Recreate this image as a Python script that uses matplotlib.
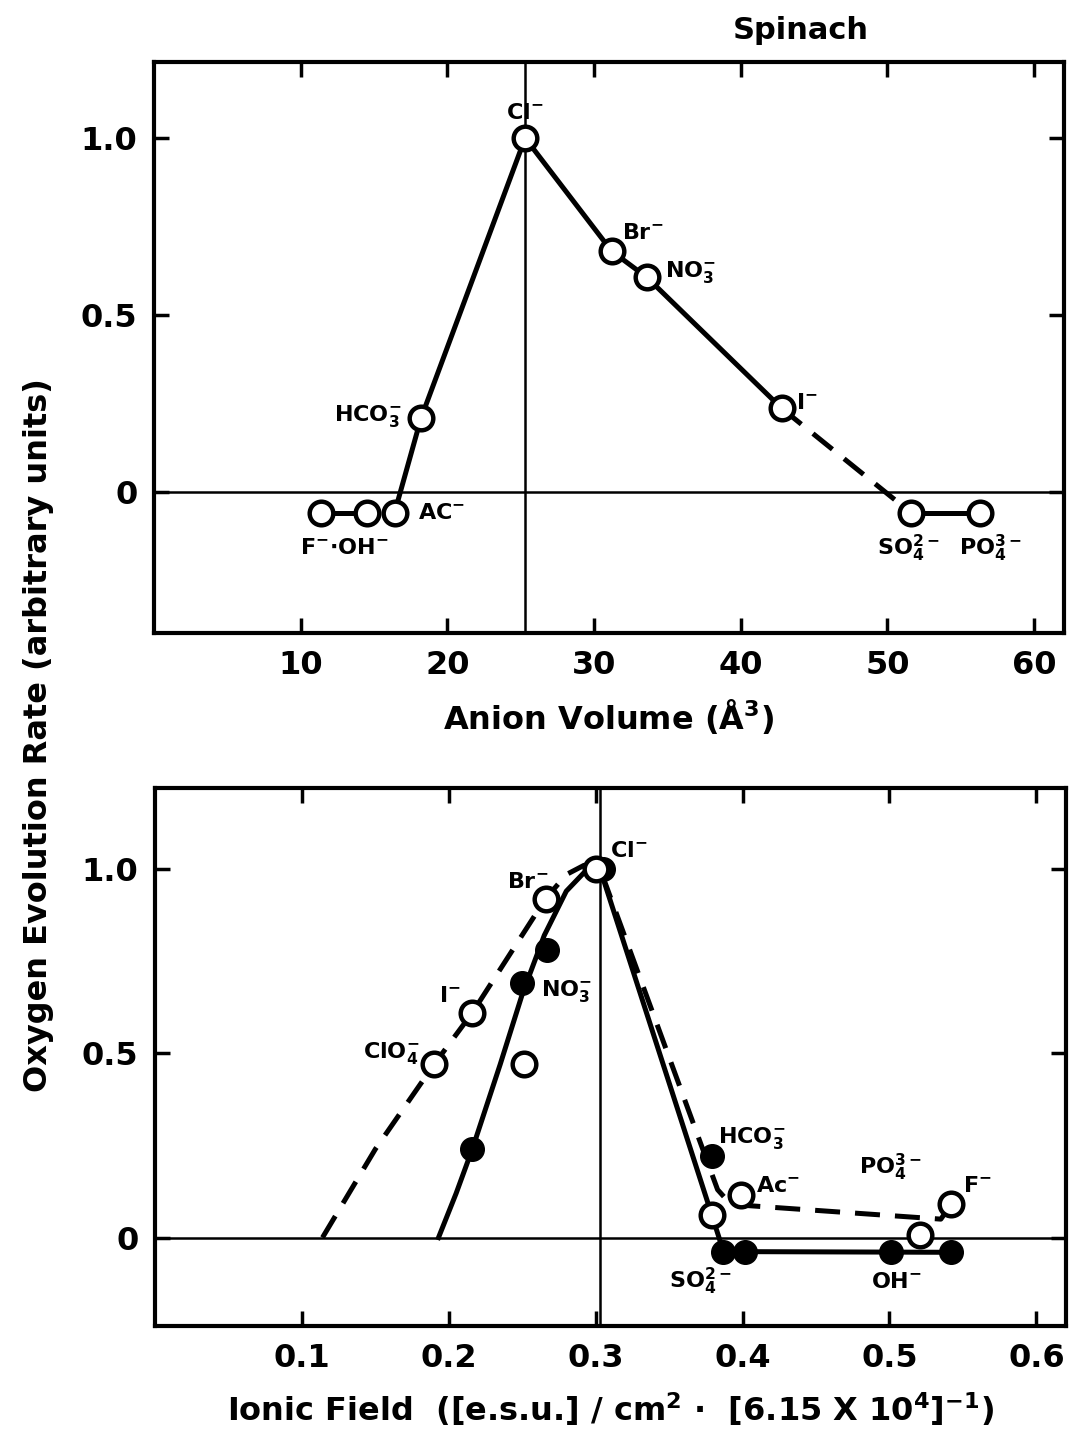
import numpy as np
import matplotlib
matplotlib.use("Agg")
import matplotlib.pyplot as plt

plt.rcParams['font.family'] = ['DejaVu Sans']
plt.rcParams['font.weight'] = 'bold'
plt.rcParams['mathtext.fontset'] = 'custom'
plt.rcParams['mathtext.rm'] = 'DejaVu Sans:bold'
plt.rcParams['mathtext.default'] = 'rm'

# ---- top panel: anion volume ----
vol_left = [11.4, 14.5]            # F-, OH- (joined pair)
rate_left = [-0.06, -0.06]
vol_solid = [16.4, 18.2, 25.3, 31.2, 33.6, 42.8]   # Ac-, HCO3-, Cl-, Br-, NO3-, I-
rate_solid = [-0.06, 0.207, 1.0, 0.68, 0.606, 0.235]
vol_dash = [42.8, 51.6]
rate_dash = [0.235, -0.06]
vol_right = [51.6, 56.3]           # SO4 2-, PO4 3-
rate_right = [-0.06, -0.06]
vol_labels = [
    (25.3, 1.07, r'Cl$^{-}$', 'center'),
    (33.3, 0.73, r'Br$^{-}$', 'center'),
    (36.6, 0.62, r'NO$_3^{-}$', 'center'),
    (44.5, 0.25, r'I$^{-}$', 'center'),
    (14.6, 0.215, r'HCO$_3^{-}$', 'center'),
    (19.6, -0.06, r'AC$^{-}$', 'center'),
    (13.0, -0.16, r'F$^{-}$$\cdot$OH$^{-}$', 'center'),
    (51.4, -0.16, r'SO$_4^{2-}$', 'center'),
    (57.0, -0.16, r'PO$_4^{3-}$', 'center'),
]

# ---- bottom panel: ionic field ----
open_x = [0.190, 0.216, 0.266, 0.251, 0.300, 0.379, 0.399, 0.521, 0.542]
open_y = [0.47, 0.61, 0.92, 0.47, 1.0, 0.062, 0.116, 0.008, 0.09]
filled_x = [0.216, 0.250, 0.267, 0.305, 0.379, 0.387, 0.402, 0.501, 0.542]
filled_y = [0.24, 0.69, 0.78, 1.0, 0.22, -0.038, -0.038, -0.038, -0.04]
curve_solid_x = [0.193, 0.205, 0.216, 0.235, 0.250, 0.265, 0.280, 0.292, 0.303,
                 0.379, 0.387, 0.542]
curve_solid_y = [0.0, 0.12, 0.24, 0.47, 0.66, 0.82, 0.94, 0.99, 1.0,
                 0.062, -0.038, -0.04]
curve_dash_x = [0.114, 0.150, 0.190, 0.216, 0.245, 0.266, 0.280, 0.292, 0.303,
                0.383, 0.392, 0.535, 0.542]
curve_dash_y = [0.0, 0.24, 0.47, 0.61, 0.79, 0.92, 0.985, 1.01, 1.0,
                0.13, 0.09, 0.05, 0.09]
field_labels = [
    (0.310, 1.05, r'Cl$^{-}$', 'left'),
    (0.254, 0.965, r'Br$^{-}$', 'center'),
    (0.201, 0.655, r'I$^{-}$', 'center'),
    (0.161, 0.50, r'ClO$_4^{-}$', 'center'),
    (0.280, 0.67, r'NO$_3^{-}$', 'center'),
    (0.406, 0.27, r'HCO$_3^{-}$', 'center'),
    (0.424, 0.14, r'Ac$^{-}$', 'center'),
    (0.501, 0.19, r'PO$_4^{3-}$', 'center'),
    (0.560, 0.14, r'F$^{-}$', 'center'),
    (0.371, -0.12, r'SO$_4^{2-}$', 'center'),
    (0.505, -0.12, r'OH$^{-}$', 'center'),
]

LW = 3.6
MS = 17
fig = plt.figure(figsize=(10.88, 14.53), dpi=100)
ax1 = fig.add_axes([0.1415, 0.5644, 0.836, 0.3929])
ax2 = fig.add_axes([0.1425, 0.0874, 0.837, 0.3703])

open_style = dict(marker='o', ms=MS, mfc='white', mec='black', mew=3.2, ls='none', zorder=5)


def style_axes(ax):
    for s in ax.spines.values():
        s.set_linewidth(3)
    ax.tick_params(direction='in', length=11, width=2.5, top=True, right=True,
                   labelsize=23, pad=12)
    ax.set_yticks([0, 0.5, 1.0])
    ax.set_yticklabels(['0', '0.5', '1.0'])
    ax.axhline(0, color='black', lw=1.8, zorder=1)


# top
ax1.plot(vol_left, rate_left, 'k-', lw=LW)
ax1.plot(vol_solid, rate_solid, 'k-', lw=LW)
ax1.plot(vol_dash, rate_dash, 'k-', lw=LW, dashes=(5, 3))
ax1.plot(vol_right, rate_right, 'k-', lw=LW)
ax1.plot(vol_left + vol_solid + vol_right, rate_left + rate_solid + rate_right, **open_style)
ax1.axvline(25.3, color='black', lw=1.8, zorder=1)
for x, y, t, ha in vol_labels:
    ax1.text(x, y, t, ha=ha, va='center', fontsize=16, fontweight='bold')
ax1.set_xlim(0, 62)
ax1.set_ylim(-0.40, 1.215)
ax1.set_xticks([10, 20, 30, 40, 50, 60])
style_axes(ax1)
ax1.set_xlabel(r'Anion Volume ($\mathrm{\AA}^3$)', fontsize=23, fontweight='bold', labelpad=12)

# bottom
ax2.plot(curve_solid_x, curve_solid_y, 'k-', lw=LW)
ax2.plot(curve_dash_x, curve_dash_y, 'k-', lw=LW, dashes=(5, 3))
ax2.plot(filled_x, filled_y, marker='o', ms=MS, mfc='black', mec='black', ls='none', zorder=4)
ax2.plot(open_x, open_y, **open_style)
ax2.axvline(0.303, color='black', lw=1.8, zorder=1)
for x, y, t, ha in field_labels:
    ax2.text(x, y, t, ha=ha, va='center', fontsize=16, fontweight='bold')
ax2.set_xlim(0, 0.62)
ax2.set_ylim(-0.24, 1.22)
ax2.set_xticks([0.1, 0.2, 0.3, 0.4, 0.5, 0.6])
ax2.set_xticklabels(['0.1', '0.2', '0.3', '0.4', '0.5', '0.6'])
style_axes(ax2)
ax2.set_xlabel(r'Ionic Field  ([e.s.u.] / cm$^2$ $\cdot$  [6.15 X 10$^4$]$^{-1}$)',
               fontsize=23, fontweight='bold', labelpad=12)

fig.text(0.035, 0.494, 'Oxygen Evolution Rate (arbitrary units)', rotation=90,
         ha='center', va='center', fontsize=23, fontweight='bold')
fig.text(0.736, 0.979, 'Spinach', ha='center', va='center', fontsize=22, fontweight='bold')

fig.savefig('out.png', dpi=100)
